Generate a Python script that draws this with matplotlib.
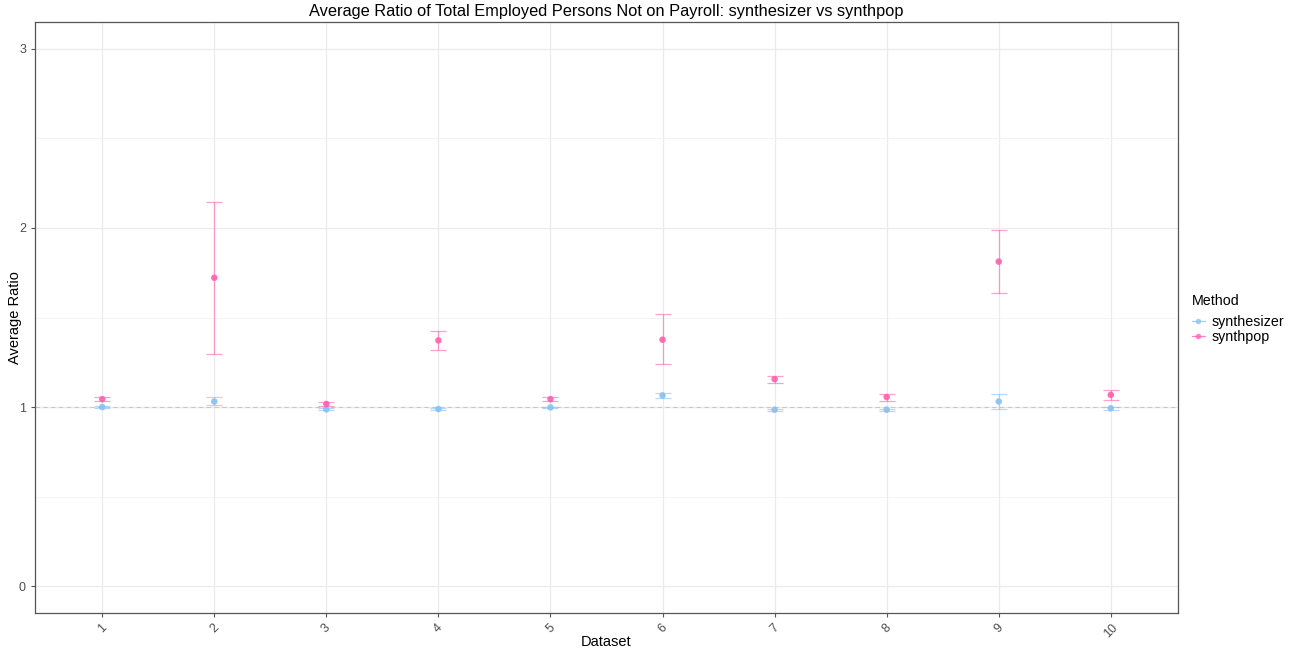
import matplotlib.pyplot as plt
from matplotlib.lines import Line2D
from matplotlib.ticker import MultipleLocator

plt.rcParams['font.family'] = ['Liberation Sans', 'DejaVu Sans']

# values
datasets = [1, 2, 3, 4, 5, 6, 7, 8, 9, 10]
tick_labels = [str(d) for d in datasets]

synthesizer_mean = [1.000, 1.031, 0.987, 0.989, 0.998, 1.065, 0.985, 0.985, 1.031, 0.993]
synthesizer_low = [0.994, 1.010, 0.982, 0.985, 0.993, 1.051, 0.980, 0.980, 0.987, 0.986]
synthesizer_high = [1.006, 1.054, 0.993, 0.993, 1.003, 1.079, 0.990, 0.990, 1.075, 1.000]

synthpop_mean = [1.044, 1.722, 1.017, 1.372, 1.044, 1.376, 1.156, 1.056, 1.812, 1.068]
synthpop_low = [1.031, 1.296, 1.005, 1.317, 1.033, 1.239, 1.136, 1.036, 1.635, 1.042]
synthpop_high = [1.056, 2.144, 1.029, 1.426, 1.056, 1.518, 1.175, 1.075, 1.989, 1.094]

methods = ['synthesizer', 'synthpop']
colors = {'synthesizer': '#87c1f2', 'synthpop': '#ff5fae'}

W, H = 1305, 654
fig = plt.figure(figsize=(W / 100, H / 100), dpi=100)
# panel box in pixels: x 35..1178, y 22..613
ax = fig.add_axes([35 / W, 1 - 613 / H, (1178 - 35) / W, (613 - 22) / H])

series = {
    'synthesizer': (synthesizer_mean, synthesizer_low, synthesizer_high),
    'synthpop': (synthpop_mean, synthpop_low, synthpop_high),
}

handles = []
for m in methods:
    mean, low, high = series[m]
    err = [[a - b for a, b in zip(mean, low)], [c - a for a, c in zip(mean, high)]]
    ax.errorbar(datasets, mean, yerr=err, fmt='none', ecolor=colors[m],
                elinewidth=0.9, capsize=5.5, capthick=0.9, alpha=0.6, zorder=3)
    ax.scatter(datasets, mean, s=22, color=colors[m], alpha=0.9,
               edgecolors='none', zorder=4)
    handles.append(Line2D([], [], color=colors[m], lw=0.9, alpha=0.75,
                          marker='o', ms=4, markeredgewidth=0))

ax.axhline(1, color='#c8c8c8', linestyle=(0, (4, 3)), linewidth=0.8, zorder=2)

ax.set_xlim(0.4, 10.6)
ax.set_ylim(-0.15, 3.15)
ax.set_xticks(datasets)
ax.set_xticklabels(tick_labels, rotation=45, ha='center', va='top')
ax.yaxis.set_major_locator(MultipleLocator(1))
ax.yaxis.set_minor_locator(MultipleLocator(0.5))
ax.grid(which='major', color='#ebebeb', linewidth=0.9, zorder=0)
ax.grid(which='minor', axis='y', color='#f2f2f2', linewidth=0.6, zorder=0)
ax.set_axisbelow(True)

for sp in ax.spines.values():
    sp.set_color('#555555')
    sp.set_linewidth(0.9)
ax.tick_params(which='major', length=3, color='#555555', labelcolor='#4d4d4d',
               labelsize=9, width=0.8)
ax.tick_params(which='minor', length=0)

ax.set_title('Average Ratio of Total Employed Persons Not on Payroll: synthesizer vs synthpop',
             fontsize=11.8, pad=4)
ax.set_xlabel('Dataset', fontsize=10.5)
ax.set_ylabel('Average Ratio', fontsize=10.5)
ax.xaxis.set_label_coords(0.5, (613 - 635) / (613 - 22))
ax.yaxis.set_label_coords((22 - 35) / (1178 - 35), 0.5)

leg = fig.legend(handles=handles, labels=methods, title='Method', loc='upper left',
                 bbox_to_anchor=(1192 / W, 1 - 294 / H), frameon=False,
                 fontsize=10.3, title_fontsize=10.3, handlelength=0.9,
                 handletextpad=0.5, labelspacing=0.05, borderaxespad=0,
                 borderpad=0, alignment='left')
leg._legend_box.sep = 5

fig.savefig('out.png', dpi=100)
